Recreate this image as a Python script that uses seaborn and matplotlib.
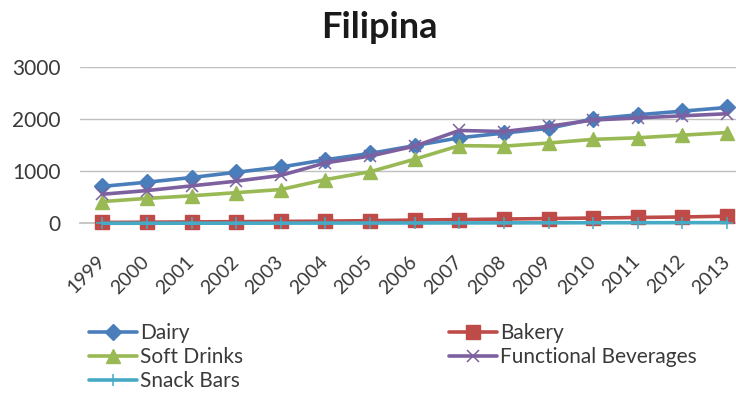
import matplotlib
matplotlib.use("Agg")
import matplotlib.pyplot as plt
import seaborn as sns
import pandas as pd
import numpy as np

years = ["1999", "2000", "2001", "2002", "2003", "2004", "2005", "2006",
         "2007", "2008", "2009", "2010", "2011", "2012", "2013"]
dairy = [710, 790, 880, 980, 1080, 1220, 1340, 1490, 1640, 1730, 1820, 2000, 2080, 2150, 2220]
bakery = [20, 25, 30, 35, 40, 45, 55, 65, 75, 85, 95, 105, 115, 125, 140]
soft_drinks = [420, 480, 530, 590, 650, 840, 990, 1230, 1490, 1480, 1540, 1610, 1640, 1690, 1740]
functional = [560, 630, 720, 810, 920, 1160, 1290, 1480, 1780, 1760, 1860, 1980, 2020, 2060, 2100]
snack_bars = [5, 5, 6, 6, 7, 8, 9, 10, 11, 12, 13, 14, 15, 16, 17]

series_names = ["Dairy", "Bakery", "Soft Drinks", "Functional Beverages", "Snack Bars"]
series_values = [dairy, bakery, soft_drinks, functional, snack_bars]
colors = ["#4A7EBB", "#BE4B48", "#98B954", "#7D60A0", "#46AAC5"]
markers = ["D", "s", "^", "x", "+"]
msizes = [8.5, 10, 10, 8, 8]
mews = [1, 1, 1, 1.1, 1.1]

sns.set_theme(style="white")
plt.rcParams["font.family"] = ["Lato", "DejaVu Sans"]
TXT = "#3a3a3a"

fig = plt.figure(figsize=(7.36, 4.05), dpi=100)
ax = fig.add_axes([80 / 736, 1 - 223.5 / 405, 656 / 736, (223.5 - 66.7) / 405])

handles = {}
for i, name in enumerate(series_names):
    df = pd.DataFrame({"x": range(len(years)), "y": series_values[i]})
    sns.lineplot(data=df, x="x", y="y", ax=ax, color=colors[i], lw=2.6,
                 marker=markers[i], markersize=msizes[i], markeredgecolor=colors[i],
                 markerfacecolor=colors[i], markeredgewidth=mews[i],
                 clip_on=False, label=name, zorder=3 + i * 0.1)
    handles[name] = ax.get_lines()[-1]

ax.set_xlim(-0.5, 14.2)
ax.set_ylim(0, 3000)
ax.set_yticks([0, 1000, 2000, 3000])
ax.set_yticklabels(["0", "1000", "2000", "3000"], fontsize=15, color=TXT)
# label anchors nudged slightly left of each category (ticks are invisible)
ax.set_xticks(np.arange(len(years)) - 0.14)
ax.set_xticklabels(years, fontsize=14, color=TXT, rotation=45,
                   ha="right", va="top", rotation_mode="anchor")
ax.tick_params(axis="x", length=0, pad=21)
ax.tick_params(axis="y", length=0, pad=14)
ax.set_xlabel("")
ax.set_ylabel("")
ax.grid(axis="y", color="#c0c0c0", lw=1)
ax.grid(axis="x", visible=False)
for s in ["top", "right", "left"]:
    ax.spines[s].set_visible(False)
ax.spines["bottom"].set_color("#c0c0c0")
ax.legend_.remove()

fig.text(379 / 736, 1 - 38 / 405, "Filipina", ha="center", va="baseline",
         fontsize=26, fontweight="bold", color="#1a1a1a")

leg_kw = dict(loc="upper left", frameon=False, fontsize=15, handlelength=2.3,
              handletextpad=0.15, labelspacing=0.2, borderaxespad=0, borderpad=0)
col1 = ["Dairy", "Soft Drinks", "Snack Bars"]
col2 = ["Bakery", "Functional Beverages"]
leg1 = fig.legend([handles[n] for n in col1], col1,
                  bbox_to_anchor=(89 / 736, 1 - 323 / 405), **leg_kw)
leg2 = fig.legend([handles[n] for n in col2], col2,
                  bbox_to_anchor=(449 / 736, 1 - 323 / 405), **leg_kw)
for leg in (leg1, leg2):
    for t in leg.get_texts():
        t.set_color(TXT)

fig.savefig("out.png", dpi=100, facecolor="white")
